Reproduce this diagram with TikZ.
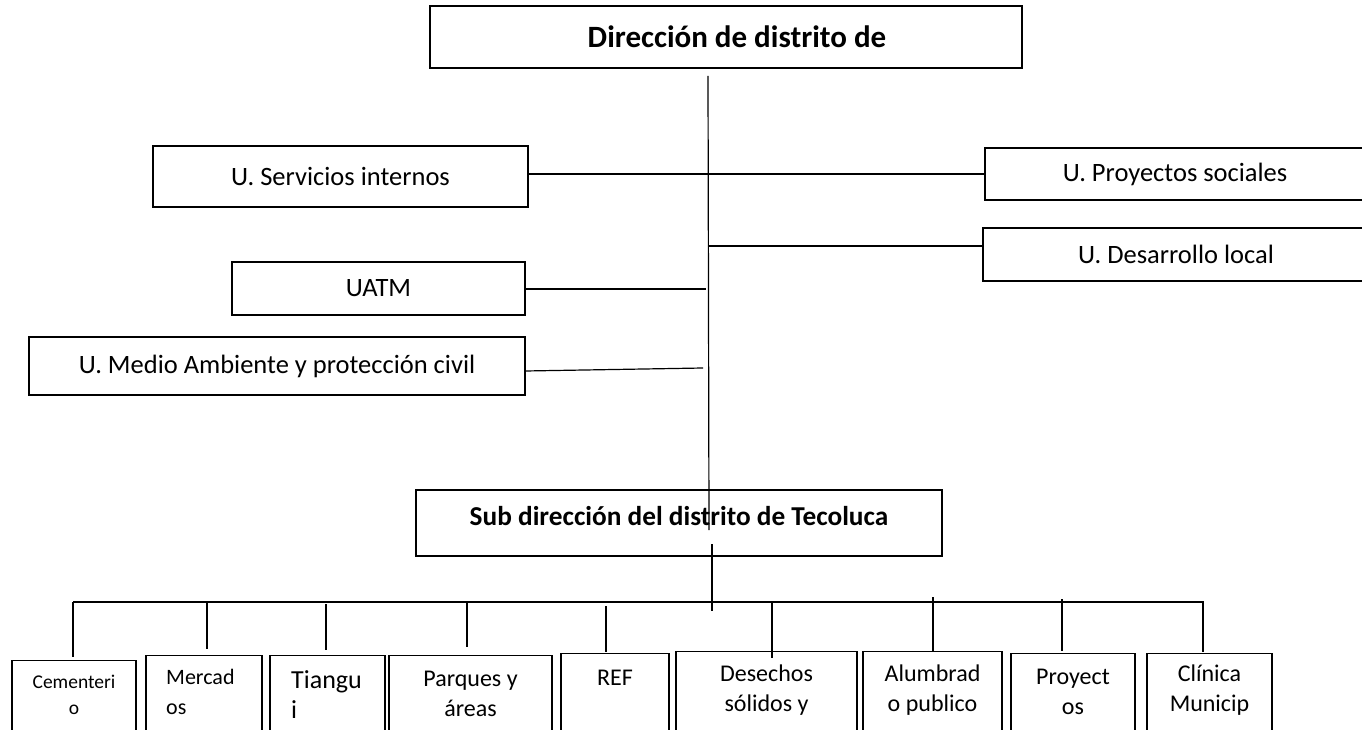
\documentclass[tikz,border=0pt]{standalone}
\usepackage{fontspec}
\setmainfont{Carlito}
\begin{document}
\begin{tikzpicture}[x=1pt,y=-1pt,
  box/.style={draw=black, rectangle, inner sep=0pt, line width=1.2pt},
  lbl/.style={font=\fontsize{26.5}{32}\selectfont},
  ttl/.style={font=\fontsize{31}{36}\selectfont\bfseries, inner sep=0pt},
  sml/.style={font=\fontsize{24}{30}\selectfont, align=center, inner sep=0pt},
  conn/.style={draw=black, line width=1.2pt}]
\useasboundingbox (0,0) rectangle (1362,730);
\clip (0,0) rectangle (1362,730);
% top box
\node[box, minimum width=592pt, minimum height=62pt] (dir) at (726,37) {};
\node[ttl] (dirtxt) at (737,37) {Dirección de distrito de};
% units
\node[box, lbl, minimum width=375pt, minimum height=61pt] (serv) at (340.5,176.5) {U. Servicios internos};
\node[box, lbl, minimum width=380pt, minimum height=52pt] (proy) at (1175,174) {U. Proyectos sociales};
\node[box, lbl, minimum width=386pt, minimum height=53pt] (desa) at (1176,254.5) {U. Desarrollo local};
\node[box, lbl, minimum width=293pt, minimum height=53pt] (uatm) at (378.5,288.5) {UATM};
\node[box, lbl, minimum width=496pt, minimum height=58pt] (medio) at (277,366) {U. Medio Ambiente y protección civil};
% sub direction
\node[box, minimum width=526pt, minimum height=66pt] (sub) at (679,523) {};
\node[font=\fontsize{27.3}{32}\selectfont\bfseries, inner sep=0pt] (subtxt) at (679,516) {Sub dirección del distrito de Tecoluca};
% main trunk
\coordinate (m0) at (708,76);
\coordinate (m1) at (709,530);
\coordinate (m2) at (712,544);
\coordinate (m3) at (712,611);
\draw[conn] (m0) -- (m1);
\draw[conn] (m2) -- (m3);
% side connectors
\draw[conn] (serv.east |- proy.west) -- (proy.west);
\coordinate (jd) at (708,246);
\draw[conn] (jd) -- (jd -| desa.west);
\coordinate (ju) at (706,289);
\draw[conn] (uatm.east |- ju) -- (ju);
\coordinate (jm) at (703,368);
\coordinate (jm0) at (525,371);
\draw[conn] (jm0) -- (jm);
% bottom boxes
\node[box, anchor=north, minimum width=124pt, minimum height=120pt] (cem) at (74,660) {};
\node[box, anchor=north, minimum width=116pt, minimum height=120pt] (mer) at (204,655) {};
\node[box, anchor=north, minimum width=115pt, minimum height=120pt] (tia) at (327.5,655) {};
\node[box, anchor=north, minimum width=163pt, minimum height=120pt] (par) at (470.5,655) {};
\node[box, anchor=north, minimum width=108pt, minimum height=120pt] (ref) at (615,653) {};
\node[box, anchor=north, minimum width=181pt, minimum height=120pt] (des) at (766.5,651) {};
\node[box, anchor=north, minimum width=139pt, minimum height=120pt] (alu) at (932.5,651) {};
\node[box, anchor=north, minimum width=124pt, minimum height=120pt] (pro) at (1073,653) {};
\node[box, anchor=north, minimum width=125pt, minimum height=120pt] (cli) at (1209.5,653) {};
% bottom texts
\node[font=\fontsize{19.5}{26}\selectfont, align=center, inner sep=0pt] (cemt) at (74,695) {Cementeri\\o};
\node[font=\fontsize{22}{30}\selectfont, align=left, inner sep=0pt, anchor=west] (mert) at (166,692) {Mercad\\os};
\node[font=\fontsize{26}{30}\selectfont, align=left, inner sep=0pt, anchor=west] (tiat) at (291,695) {Tiangu\\i};
\node[sml] (part) at (470.5,694) {Parques y\\áreas};
\node[sml] (reft) at (615,678) {REF};
\node[sml] (dest) at (766.5,690) {Desechos\\sólidos y};
\node[sml] (alut) at (932.5,690) {Alumbrad\\o publico};
\node[sml] (prot) at (1073,692) {Proyect\\os};
\node[sml] (clit) at (1209.5,690) {Clínica\\Municip};
% bus
\coordinate (bl) at (73,602);
\coordinate (br) at (1204,602);
\draw[conn] (bl) -- (br);
\coordinate (t1) at (73,602);   \coordinate (e1) at (73,657);
\coordinate (t2) at (207,602);  \coordinate (e2) at (207,649);
\coordinate (t3) at (326,604);  \coordinate (e3) at (326,650);
\coordinate (t4) at (467,602);  \coordinate (e4) at (467,647);
\coordinate (t5) at (606,606);  \coordinate (e5) at (606,652);
\coordinate (t6) at (772,602);  \coordinate (e6) at (772,658);
\coordinate (t7) at (933,597);  \coordinate (e7) at (933,652);
\coordinate (t8) at (1062,599); \coordinate (e8) at (1062,651);
\coordinate (t9) at (1203,602); \coordinate (e9) at (1203,652);
\foreach \i in {1,...,9} { \draw[conn] (t\i) -- (e\i); }
\end{tikzpicture}
\end{document}
